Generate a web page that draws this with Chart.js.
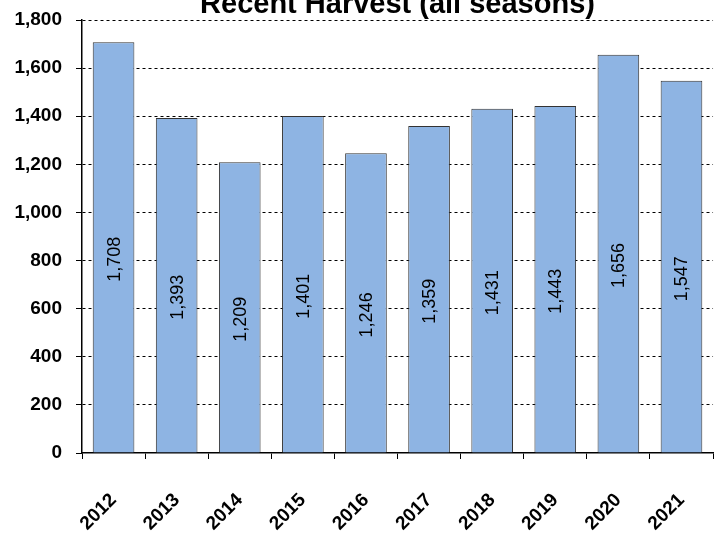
<!DOCTYPE html>
<html>
<head>
<meta charset="utf-8">
<script src="https://cdn.jsdelivr.net/npm/chart.js@4/dist/chart.umd.min.js"></script>
<style>
  html, body { margin: 0; padding: 0; background: #fff; }
  #wrap { width: 728px; height: 535px; position: relative; }
</style>
</head>
<body>
<div id="wrap"><canvas id="mychart"></canvas></div>
<script>
var chartTitle = 'Recent Harvest (all seasons)';
var years = ['2012', '2013', '2014', '2015', '2016', '2017', '2018', '2019', '2020', '2021'];
var harvest = [1708, 1393, 1209, 1401, 1246, 1359, 1431, 1443, 1656, 1547];

function fmt(v) {
	return Number(v).toLocaleString('en-US');
}

// title drawn by hand so it can sit half off the top, like the original
var titlePlugin = {
	id: 'topTitle',
	afterDraw: function (chart) {
		var ctx = chart.ctx, area = chart.chartArea;
		ctx.save();
		ctx.font = 'bold 29px "Liberation Sans", Arial, sans-serif';
		ctx.fillStyle = '#000';
		ctx.textAlign = 'center';
		ctx.textBaseline = 'alphabetic';
		ctx.fillText(chartTitle, (area.left + area.right) / 2, 13);
		ctx.restore();
	}
};

// values written sideways in every bar, a bit under the middle
var barLabels = {
	id: 'barLabels',
	afterDatasetsDraw: function (chart) {
		var ctx = chart.ctx;
		var meta = chart.getDatasetMeta(0);
		ctx.save();
		ctx.font = '18px "Liberation Sans", Arial, sans-serif';
		ctx.fillStyle = '#000';
		ctx.textAlign = 'center';
		ctx.textBaseline = 'middle';
		meta.data.forEach(function (bar, i) {
			var midY = (bar.y + bar.base) / 2 + 12;
			ctx.save();
			ctx.translate(bar.x, midY);
			ctx.rotate(-Math.PI / 2);
			ctx.fillText(fmt(harvest[i]), 0, 1);
			ctx.restore();
		});
		ctx.restore();
	}
};

var chart = new Chart(document.getElementById('mychart'), {
	type: 'bar',
	plugins: [titlePlugin, barLabels],
	data: {
		labels: years,
		datasets: [{
			data: harvest,
			backgroundColor: '#8eb4e3',
			borderColor: '#333333',
			borderWidth: 1,
			barPercentage: 0.66,
			categoryPercentage: 1
		}]
	},
	options: {
		responsive: true,
		maintainAspectRatio: false,
		animation: false,
		layout: { padding: { top: 20, right: 8, left: 0, bottom: 0 } },
		plugins: {
			legend: { display: false },
			tooltip: { enabled: false },
			title: { display: false }
		},
		scales: {
			x: {
				offset: true,
				grid: {
					display: true,
					drawOnChartArea: false,
					drawTicks: true,
					tickLength: 6,
					color: '#000',
					offset: true
				},
				border: { display: true, color: '#000', width: 1.5 },
				ticks: {
					color: '#000',
					font: { family: '"Liberation Sans", Arial, sans-serif', size: 19, weight: 'bold' },
					minRotation: 45,
					maxRotation: 45,
					padding: 30
				},
				afterFit: function (scale) { scale.height = 82; }
			},
			y: {
				min: 0,
				max: 1800,
				ticks: {
					stepSize: 200,
					color: '#000',
					padding: 14,
					font: { family: '"Liberation Sans", Arial, sans-serif', size: 19, weight: 'bold', lineHeight: 1 },
					callback: function (v) { return fmt(v); }
				},
				grid: {
					color: function (c) { return c.tick && c.tick.value === 0 ? 'rgba(0,0,0,0)' : '#000'; },
					lineWidth: 1,
					tickLength: 6,
					tickColor: '#000',
					drawTicks: true
				},
				border: { display: true, color: '#000', width: 1.5, dash: [3, 3] },
				afterFit: function (scale) {
					scale.width = 82;
					scale.paddingTop = 0;
					scale.paddingBottom = 0;
				}
			}
		}
	}
});
</script>
</body>
</html>
